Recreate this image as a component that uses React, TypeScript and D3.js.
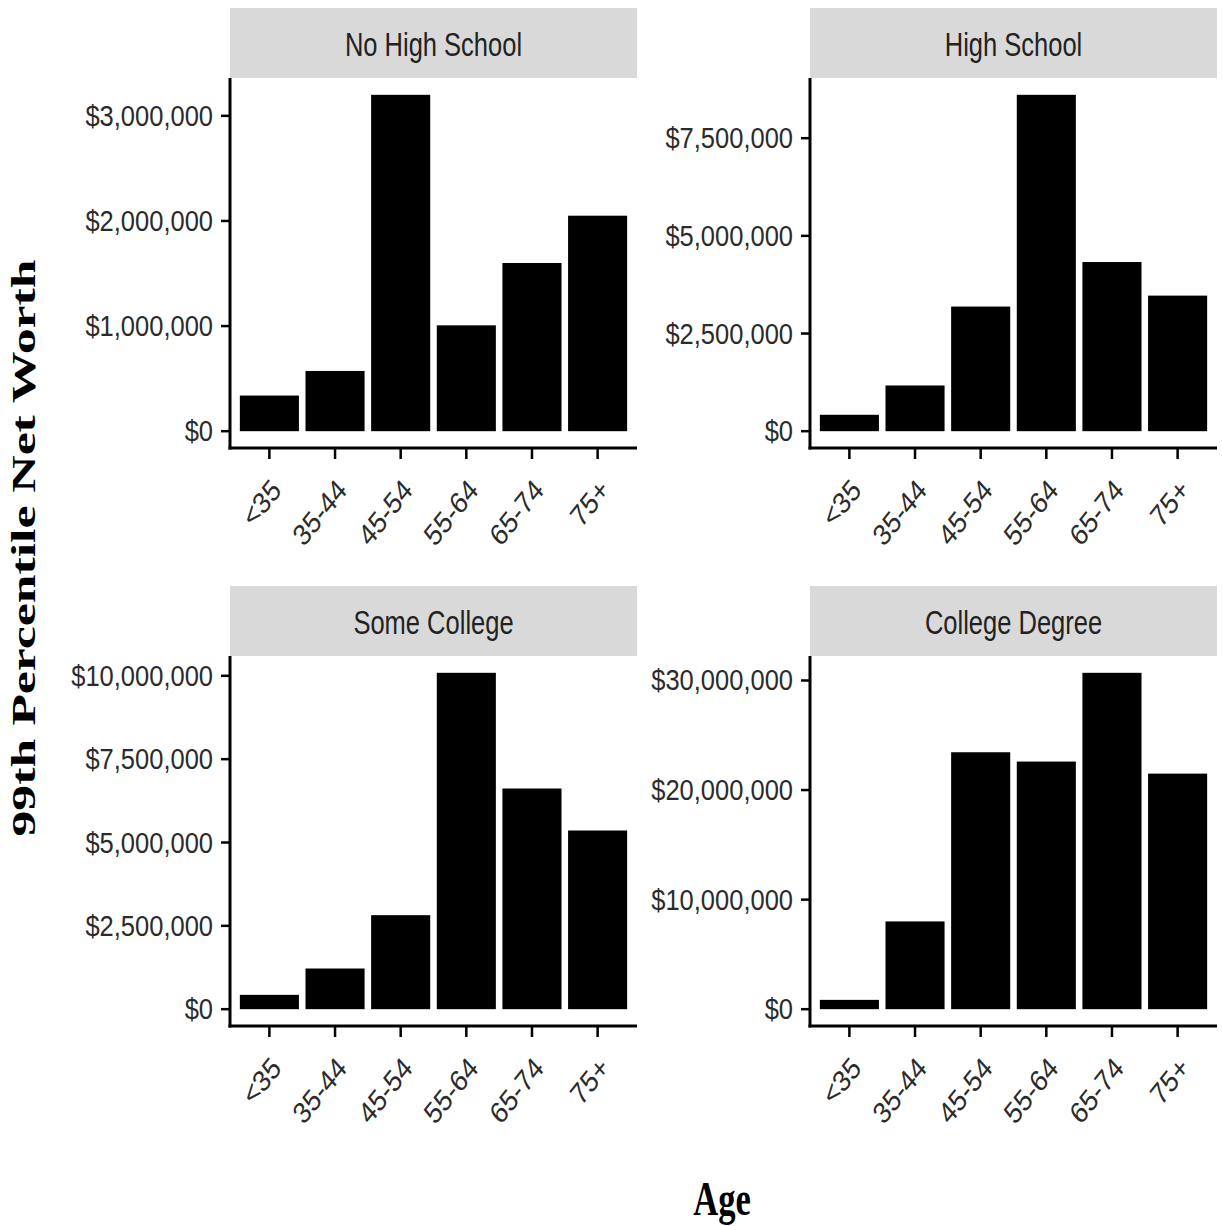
import React from "react";
import * as d3 from "d3";

const ageGroups = ["<35", "35-44", "45-54", "55-64", "65-74", "75+"];

const noHighSchool = [339000, 573000, 3200000, 1007000, 1600000, 2050000];
const highSchool = [420000, 1170000, 3190000, 8610000, 4330000, 3470000];
const someCollege = [430000, 1220000, 2820000, 10090000, 6620000, 5360000];
const collegeDegree = [850000, 8010000, 23450000, 22600000, 30700000, 21500000];

const noHighSchoolTicks = [0, 1000000, 2000000, 3000000];
const highSchoolTicks = [0, 2500000, 5000000, 7500000];
const someCollegeTicks = [0, 2500000, 5000000, 7500000, 10000000];
const collegeDegreeTicks = [0, 10000000, 20000000, 30000000];

const panelTitles = ["No High School", "High School", "Some College", "College Degree"];

const yTitle = "99th Percentile Net Worth";
const xTitle = "Age";

const W = 1222;
const H = 1226;
const SANS = "'Liberation Sans', Arial, Helvetica, sans-serif";
const SERIF = "'Liberation Serif', 'DejaVu Serif', serif";
const SX_STRIP = 0.75; // horizontal condensation of the reference typography
const SX_AXIS = 0.85;

const fmt = (v: number) => "$" + d3.format(",")(v);

type PanelProps = {
  title: string;
  values: number[];
  ticks: number[];
  left: number;
  stripTop: number;
};

function Panel({ title, values, ticks, left, stripTop }: PanelProps) {
  const width = 407;
  const stripH = 70;
  const top = stripTop + stripH;
  const bottom = top + 370;
  const maxV = d3.max(values) as number;
  const y = d3
    .scaleLinear()
    .domain([-0.05 * maxV, maxV * 1.05])
    .range([bottom, top]);
  // discrete axis with 0.6 expansion on each side, bar width 0.9
  const unit = width / (ageGroups.length - 1 + 1.2);
  const x = d3
    .scaleBand()
    .domain(ageGroups)
    .range([left + 0.1 * unit, left + width - 0.1 * unit])
    .paddingInner(0.1)
    .paddingOuter(0.05);
  const cx = (g: string) => (x(g) as number) + x.bandwidth() / 2;

  return (
    <g>
      <rect x={left} y={stripTop} width={width} height={stripH} fill="#d9d9d9" />
      <text
        transform={`translate(${left + width / 2},${stripTop + 48}) scale(${SX_STRIP},1)`}
        textAnchor="middle"
        fontFamily={SANS}
        fontSize={34}
        fill="#222"
      >
        {title}
      </text>
      {values.map((v, i) => (
        <rect
          key={i}
          x={x(ageGroups[i]) as number}
          y={y(v)}
          width={x.bandwidth()}
          height={y(0) - y(v)}
          fill="#000"
        />
      ))}
      <line x1={left} x2={left} y1={top} y2={bottom + 1.5} stroke="#000" strokeWidth={3} />
      <line x1={left - 1.5} x2={left + width} y1={bottom} y2={bottom} stroke="#000" strokeWidth={3} />
      {ticks.map((t) => (
        <g key={t}>
          <line x1={left - 9} x2={left} y1={y(t)} y2={y(t)} stroke="#000" strokeWidth={2.5} />
          <text
            transform={`translate(${left - 17},${y(t) + 10}) scale(${SX_AXIS},1)`}
            textAnchor="end"
            fontFamily={SANS}
            fontSize={30}
            fill="#2b2b2b"
          >
            {fmt(t)}
          </text>
        </g>
      ))}
      {ageGroups.map((g) => (
        <g key={g}>
          <line x1={cx(g)} x2={cx(g)} y1={bottom} y2={bottom + 11} stroke="#000" strokeWidth={2.5} />
          <text
            transform={`translate(${cx(g)},${bottom + 29}) scale(${SX_AXIS},1) rotate(-47)`}
            textAnchor="end"
            dy="0.71em"
            fontFamily={SANS}
            fontSize={30}
            fill="#2b2b2b"
          >
            {g}
          </text>
        </g>
      ))}
    </g>
  );
}

export default function App() {
  const panels = [
    { values: noHighSchool, ticks: noHighSchoolTicks, left: 230, stripTop: 8 },
    { values: highSchool, ticks: highSchoolTicks, left: 810, stripTop: 8 },
    { values: someCollege, ticks: someCollegeTicks, left: 230, stripTop: 586 },
    { values: collegeDegree, ticks: collegeDegreeTicks, left: 810, stripTop: 586 },
  ];
  return (
    <svg
      width={W}
      height={H}
      style={{ position: "absolute", left: 0, top: 0, background: "#fff" }}
    >
      <rect x={0} y={0} width={W} height={H} fill="#fff" />
      {panels.map((p, i) => (
        <Panel key={i} title={panelTitles[i]} {...p} />
      ))}
      <text
        transform={`translate(35,548) rotate(-90)`}
        textAnchor="middle"
        fontFamily={SERIF}
        fontWeight="bold"
        fontSize={34}
        textLength={577}
        lengthAdjust="spacingAndGlyphs"
        fill="#000"
      >
        {yTitle}
      </text>
      <text
        transform={`translate(722,1215) scale(0.72,1)`}
        textAnchor="middle"
        fontFamily={SERIF}
        fontWeight="bold"
        fontSize={48}
        fill="#000"
      >
        {xTitle}
      </text>
    </svg>
  );
}
